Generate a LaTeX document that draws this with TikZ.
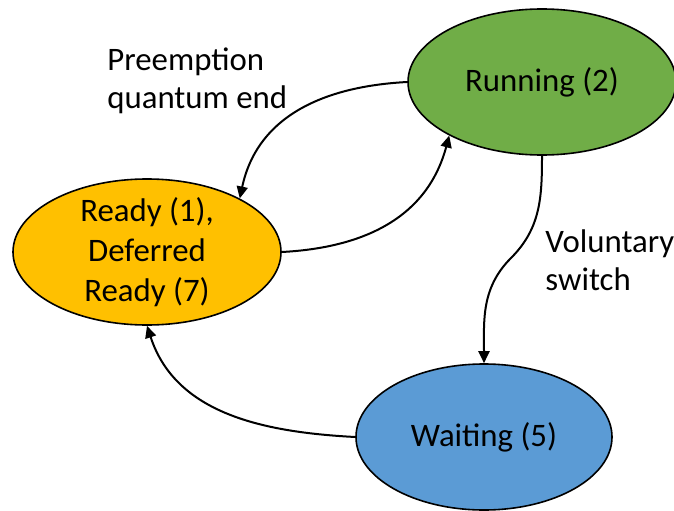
\documentclass[tikz,border=0pt]{standalone}
\usepackage{fontspec}
\setmainfont{Carlito}
\usepackage{tikz}
\usetikzlibrary{arrows.meta,shapes.geometric}
\definecolor{runninggreen}{RGB}{112,173,71}
\definecolor{readyyellow}{RGB}{255,192,0}
\definecolor{waitingblue}{RGB}{91,155,213}
\tikzset{
  state/.style={ellipse, draw=black, line width=0.8pt, minimum width=134pt, minimum height=73pt,
                inner sep=0pt, align=center, font=\fontsize{16.4}{20}\selectfont},
  stategreen/.style={state, fill=runninggreen},
  stateyellow/.style={state, fill=readyyellow},
  stateblue/.style={state, fill=waitingblue},
  arrow/.style={-{Triangle[length=6pt,width=5.5pt]}, line width=1pt, black},
  edgelabel/.style={font=\fontsize{16.4}{19}\selectfont, align=left, anchor=west, inner sep=0pt},
}

\begin{document}
\begin{tikzpicture}[x=0.5pt,y=0.5pt]
\useasboundingbox (0,0) rectangle (674,510);
\node[stategreen] (running) at (542,428) {Running (2)};
\node[stateyellow, inner ysep=-5pt] (ready) at (147,258) {Ready (1),\\Deferred\\Ready (7)};
\node[stateblue, minimum width=128pt] (waiting) at (484,73) {Waiting (5)};
\node[edgelabel] (preempt) at (107,429) {Preemption\\quantum end};
\node[edgelabel] (voluntary) at (545,250) {Voluntary\\switch};
\coordinate (kink) at (511,252);
\draw[arrow] (running.west) to[out=183,in=78,looseness=1.05] (ready.30);
\draw[arrow] (ready.east) to[out=3,in=255,looseness=1.05] (running.210);
\draw[arrow] (running.south) to[out=-90,in=45] (kink) to[out=225,in=90] (waiting.north);
\draw[arrow] (waiting.west) to[out=177,in=-72] (ready.south);
\end{tikzpicture}
\end{document}
